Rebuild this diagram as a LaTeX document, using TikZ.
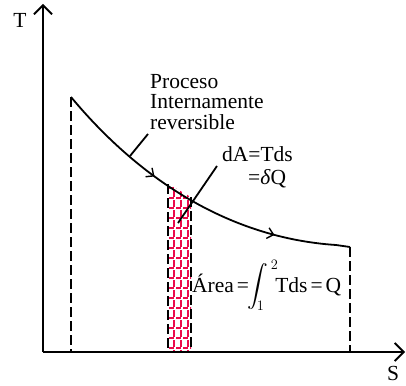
\documentclass[tikz,border=0pt]{standalone}
\usepackage{amsmath}
\usepackage{fontspec}
\setmainfont{Liberation Serif}
\usetikzlibrary{arrows.meta,decorations.markings}
\definecolor{hatchred}{RGB}{235,10,75}
\begin{document}
\begin{tikzpicture}[x=1pt,y=-1pt,
  axis/.style={line width=1.8pt,-{Straight Barb[length=9pt,width=18pt,line width=1.8pt]}},
  dashv/.style={line width=1.8pt,dash pattern=on 10pt off 4pt},
  curveln/.style={line width=1.8pt},
  leader/.style={line width=1.8pt},
  lbl/.style={inner sep=0pt,font=\fontsize{21.5}{20.5}\selectfont},
  hatchv/.style={hatchred,line width=1.4pt,dash pattern=on 7pt off 3pt},
  hatchh/.style={hatchred,line width=1.4pt,dash pattern=on 5pt off 2pt}]
\useasboundingbox (0,0) rectangle (406,385);
% key points
\coordinate (O) at (43,352);
\coordinate (Ytop) at (43,4);
\coordinate (Xend) at (405,352);
\coordinate (P1) at (71,97);
\coordinate (P2a) at (336,245);
\coordinate (P2) at (350,247);
\coordinate (A1) at (168,184);
\coordinate (B1) at (191,197);
\coordinate (P1b) at (71,352);
\coordinate (A1b) at (168,352);
\coordinate (B1b) at (191,352);
\coordinate (P2b) at (350,352);
% hatch
\begin{scope}
  \clip (A1b) -- (A1) -- (B1) -- (B1b) -- cycle;
  \foreach \x in {174,181,188} \draw[hatchv] (\x,180) -- (\x,354);
  \foreach \y in {188,198,...,352} \draw[hatchh,dash phase=-1pt] (168,\y) -- (193,\y);
\end{scope}
% dashed verticals
\draw[dashv] (P1) -- (P1b);
\draw[dashv] (A1) -- (A1b);
\draw[dashv] (B1) -- (B1b);
\draw[dashv] (P2) -- (P2b);
% curve
\draw[curveln,postaction={decorate},
  decoration={markings,
    mark=at position 0.37 with {\arrow{Straight Barb[length=6pt,width=11pt,line width=1.4pt]}},
    mark=at position 0.8 with {\arrow{Straight Barb[length=6pt,width=11pt,line width=1.4pt]}}}]
  (P1) .. controls (140,180) and (230,238) .. (P2a);
\draw[curveln] (P2a) -- (P2);
% axes
\draw[axis] (O) -- (Ytop);
\draw[axis] (O) -- (Xend);
% labels
\node[lbl,anchor=base] (T) at (20,28) {T};
\node[lbl,anchor=base] (S) at (393,380) {S};
\node[lbl,anchor=north west,align=left] (proc) at (150,74) {Proceso\\Internamente\\reversible};
\node[lbl,anchor=base west] (dA) at (222,161) {dA=Tds};
\node[lbl,anchor=base west] (dQ) at (248,184) {=\textit{δ}Q};
\node[lbl,anchor=base west] (area) at (192,292) {Área\hspace{3pt}=\hspace{2pt}$\displaystyle\!\int_{\!1}^{\,2}$\hspace{-3pt}Tds\hspace{3pt}=\hspace{3pt}Q};
% leaders
\coordinate (L1a) at (130,156);
\coordinate (L1b) at (148,134);
\coordinate (L2a) at (178,223);
\coordinate (L2b) at (217,166);
\draw[leader] (L1a) -- (L1b);
\draw[leader] (L2a) -- (L2b);
\end{tikzpicture}
\end{document}
